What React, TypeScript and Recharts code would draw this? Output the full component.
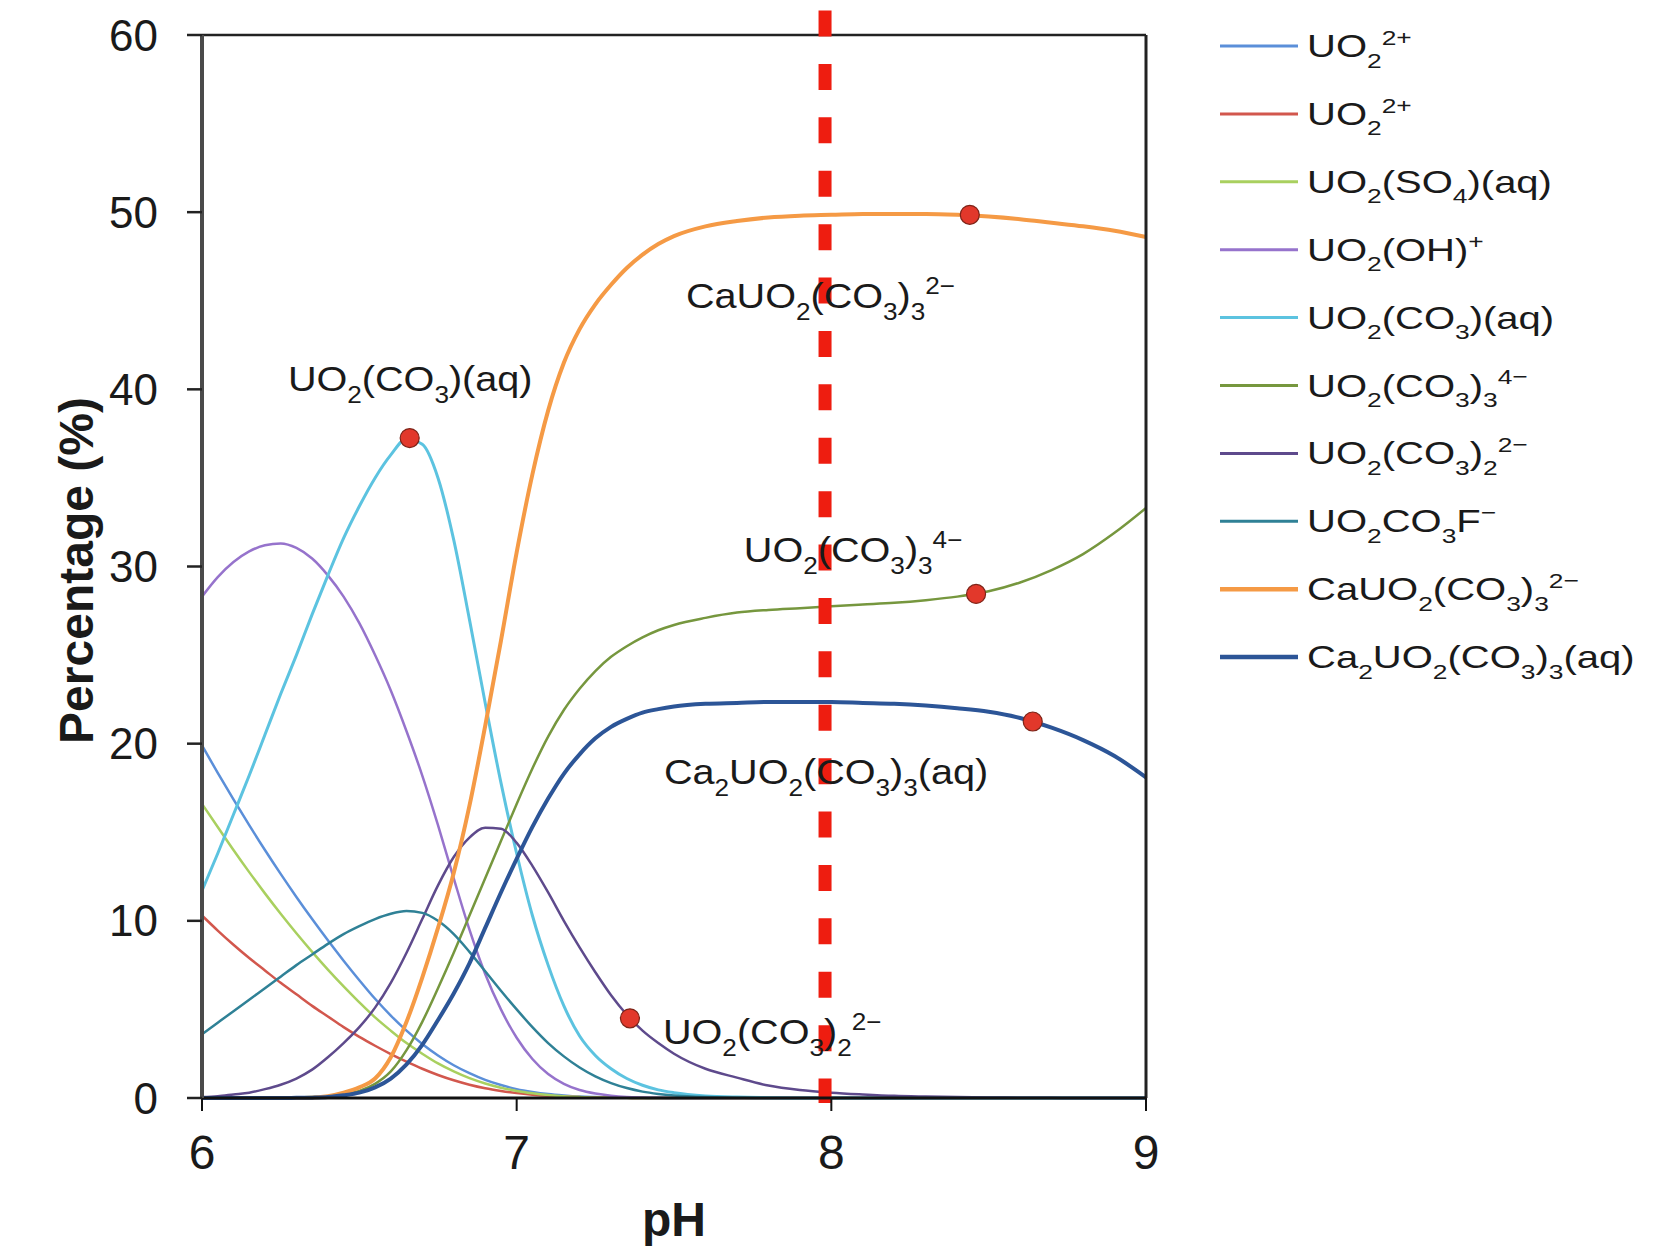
import React from "react";
import { LineChart, Line, XAxis, YAxis, ReferenceLine, ReferenceDot } from "recharts";

// pH grid (finer where the curves change fast)
const pH = [
  6.0, 6.05, 6.1, 6.15, 6.2, 6.25, 6.3, 6.35, 6.4, 6.45, 6.5, 6.55, 6.6, 6.65, 6.7, 6.75,
  6.8, 6.85, 6.9, 6.95, 7.0, 7.05, 7.1, 7.15, 7.2, 7.25, 7.3, 7.35, 7.4, 7.45, 7.5,
  7.6, 7.7, 7.8, 7.9, 8.0, 8.1, 8.2, 8.3, 8.4, 8.5, 8.6, 8.7, 8.8, 8.9, 9.0,
];

const uo2Blue = [
  19.9, 18.35, 16.85, 15.4, 14.0, 12.65, 11.35, 10.1, 8.9, 7.75, 6.65, 5.6, 4.65, 3.8, 3.05, 2.4,
  1.85, 1.4, 1.02, 0.73, 0.5, 0.34, 0.22, 0.14, 0.08, 0.05, 0.03, 0.02, 0.01, 0, 0,
  0, 0, 0, 0, 0, 0, 0, 0, 0, 0, 0, 0, 0, 0, 0,
];
const uo2Red = [
  10.3, 9.45, 8.65, 7.9, 7.2, 6.5, 5.85, 5.2, 4.6, 4.0, 3.45, 2.95, 2.48, 2.05, 1.65, 1.3,
  1.0, 0.75, 0.55, 0.4, 0.28, 0.19, 0.12, 0.08, 0.05, 0.03, 0.02, 0.01, 0, 0, 0,
  0, 0, 0, 0, 0, 0, 0, 0, 0, 0, 0, 0, 0, 0, 0,
];
const so4Green = [
  16.6, 15.3, 14.0, 12.75, 11.55, 10.4, 9.3, 8.25, 7.25, 6.3, 5.4, 4.55, 3.8, 3.1, 2.5, 1.95,
  1.5, 1.12, 0.82, 0.58, 0.4, 0.27, 0.17, 0.1, 0.06, 0.03, 0.02, 0.01, 0, 0, 0,
  0, 0, 0, 0, 0, 0, 0, 0, 0, 0, 0, 0, 0, 0, 0,
];
const ohPurple = [
  28.3, 29.4, 30.25, 30.85, 31.2, 31.3, 31.05, 30.45, 29.5, 28.3, 26.8, 25.0, 23.0, 20.7, 18.2, 15.4,
  12.4, 9.5, 7.0, 5.0, 3.4, 2.2, 1.35, 0.8, 0.45, 0.25, 0.13, 0.06, 0.03, 0.01, 0,
  0, 0, 0, 0, 0, 0, 0, 0, 0, 0, 0, 0, 0, 0, 0,
];
const co3Cyan = [
  11.7, 13.8, 16.0, 18.2, 20.5, 22.8, 25.0, 27.3, 29.5, 31.6, 33.4, 35.0, 36.3, 37.2, 36.9, 35.0,
  31.5, 27.0, 22.3, 17.8, 13.8, 10.3, 7.5, 5.2, 3.5, 2.4, 1.65, 1.1, 0.72, 0.46, 0.3,
  0.12, 0.05, 0.02, 0, 0, 0, 0, 0, 0, 0, 0, 0, 0, 0, 0,
];
const tri4Olive = [
  0, 0, 0, 0, 0, 0.01, 0.02, 0.05, 0.1, 0.2, 0.4, 0.8, 1.5, 2.7, 4.3, 6.2,
  8.2, 10.3, 12.4, 14.5, 16.6, 18.6, 20.4, 21.9, 23.1, 24.1, 24.9, 25.5, 26.0, 26.4, 26.7,
  27.1, 27.4, 27.55, 27.65, 27.75, 27.85, 27.95, 28.1, 28.3, 28.6, 29.1, 29.8, 30.7, 31.9, 33.3,
];
const di2Purple = [
  0.05, 0.1, 0.2, 0.3, 0.5, 0.75, 1.1, 1.6, 2.3, 3.1, 4.0, 5.1, 6.5, 8.2, 10.1, 12.0,
  13.6, 14.7, 15.25, 15.2, 14.4, 13.1, 11.6, 10.0, 8.5, 7.1, 5.8, 4.7, 3.8, 3.1, 2.5,
  1.65, 1.15, 0.7, 0.45, 0.3, 0.2, 0.12, 0.08, 0.05, 0.03, 0.02, 0.01, 0, 0, 0,
];
const co3fTeal = [
  3.6, 4.25, 4.9, 5.55, 6.2, 6.85, 7.5, 8.1, 8.7, 9.25, 9.7, 10.1, 10.4, 10.55, 10.45, 10.0,
  9.25, 8.25, 7.15, 6.05, 5.0, 4.0, 3.1, 2.35, 1.72, 1.22, 0.84, 0.56, 0.36, 0.23, 0.14,
  0.05, 0.02, 0, 0, 0, 0, 0, 0, 0, 0, 0, 0, 0, 0, 0,
];
const caOrange = [
  0, 0, 0, 0, 0, 0, 0, 0.02, 0.1, 0.3, 0.6, 1.1, 2.3, 4.3, 6.8, 9.6,
  12.7, 16.5, 21.0, 25.8, 30.8, 35.2, 38.8, 41.5, 43.4, 44.8, 45.9, 46.85, 47.6, 48.2, 48.65,
  49.2, 49.5, 49.7, 49.8, 49.85, 49.9, 49.9, 49.9, 49.85, 49.75, 49.6, 49.4, 49.2, 48.95, 48.6,
];
const ca2DarkBlue = [
  0, 0, 0, 0, 0, 0, 0.01, 0.02, 0.05, 0.15, 0.3, 0.6, 1.1, 1.9, 3.0, 4.4,
  5.9, 7.6, 9.6, 11.6, 13.5, 15.3, 16.9, 18.3, 19.4, 20.3, 20.95, 21.4, 21.75, 21.95, 22.1,
  22.25, 22.3, 22.35, 22.35, 22.35, 22.3, 22.25, 22.15, 22.0, 21.8, 21.45, 20.9, 20.2, 19.3, 18.1,
];

// {..} = subscript, [..] = superscript
const series = [
  { key: "uo2a", name: "UO{2}[2+]", color: "#5b8fd9", width: 2.5, values: uo2Blue },
  { key: "uo2b", name: "UO{2}[2+]", color: "#d2574d", width: 2.5, values: uo2Red },
  { key: "so4", name: "UO{2}(SO{4})(aq)", color: "#a9d05f", width: 2.5, values: so4Green },
  { key: "oh", name: "UO{2}(OH)[+]", color: "#9673cc", width: 2.5, values: ohPurple },
  { key: "co3", name: "UO{2}(CO{3})(aq)", color: "#5cc3e0", width: 3, values: co3Cyan },
  { key: "tri", name: "UO{2}(CO{3}){3}[4−]", color: "#76973e", width: 2.5, values: tri4Olive },
  { key: "di", name: "UO{2}(CO{3}){2}[2−]", color: "#5e4a8c", width: 2.5, values: di2Purple },
  { key: "f", name: "UO{2}CO{3}F[−]", color: "#2f8196", width: 2.5, values: co3fTeal },
  { key: "ca", name: "CaUO{2}(CO{3}){3}[2−]", color: "#f59a45", width: 4, values: caOrange },
  { key: "ca2", name: "Ca{2}UO{2}(CO{3}){3}(aq)", color: "#2c5597", width: 4, values: ca2DarkBlue },
];

const dotPH = [6.66, 7.36, 8.44, 8.46, 8.64];
const dotVal = [37.25, 4.5, 49.85, 28.45, 21.25];

const labelText = [
  "UO{2}(CO{3})(aq)",
  "CaUO{2}(CO{3}){3}[2−]",
  "UO{2}(CO{3}){3}[4−]",
  "Ca{2}UO{2}(CO{3}){3}(aq)",
  "UO{2}(CO{3}){2}[2−]",
];
const labelPH = [6.273, 7.538, 7.722, 7.468, 7.465];
const labelVal = [39.9, 44.6, 30.25, 17.72, 3.05];

const markerPH = 7.98;
const yTicks = [0, 10, 20, 30, 40, 50, 60];
const xTicks = [6, 7, 8, 9];

const FONT = '"Liberation Sans", Arial, Helvetica, sans-serif';

const data = pH.map((x, i) => {
  const row: any = { pH: x };
  series.forEach((s) => (row[s.key] = s.values[i]));
  return row;
});

function Formula({ text, size }: { text: string; size: number }) {
  const parts = text.match(/\{[^}]*\}|\[[^\]]*\]|[^{[]+/g) || [];
  let cur = 0;
  return (
    <text x={0} y={0} fontSize={size} fill="#1a1a1a" fontFamily={FONT}>
      {parts.map((p, i) => {
        let kind = 0;
        let t = p;
        if (p[0] === "{") {
          kind = 1;
          t = p.slice(1, -1);
        } else if (p[0] === "[") {
          kind = 2;
          t = p.slice(1, -1);
        }
        const off = kind === 1 ? size * 0.33 : kind === 2 ? -size * 0.38 : 0;
        const dy = off - cur;
        cur = off;
        return (
          <tspan key={i} dy={dy} fontSize={kind ? size * 0.66 : size}>
            {t}
          </tspan>
        );
      })}
    </text>
  );
}

function LegendBox() {
  return (
    <svg
      width={1659}
      height={1246}
      style={{ position: "absolute", left: 0, top: 0, pointerEvents: "none" }}
    >
      {series.map((s, i) => {
        const y = 46 + i * 67.9;
        return (
          <g key={s.key}>
            <line x1={1220} x2={1298} y1={y} y2={y} stroke={s.color} strokeWidth={s.width === 4 ? 4.5 : 3} />
            <g transform={`translate(1307, ${y + 11}) scale(1.25, 1)`}>
              <Formula text={s.name} size={32} />
            </g>
          </g>
        );
      })}
    </svg>
  );
}

export default function App() {
  return (
    <div style={{ position: "absolute", left: 0, top: 0, width: 1659, height: 1246, background: "#fff" }}>
      <LineChart
        width={1659}
        height={1246}
        data={data}
        margin={{ top: 35, right: 513, bottom: 88, left: 122 }}
      >
        <XAxis
          dataKey="pH"
          type="number"
          domain={[6, 9]}
          ticks={xTicks}
          height={60}
          axisLine={{ stroke: "#111", strokeWidth: 3 }}
          tickLine={{ stroke: "#111", strokeWidth: 2 }}
          tickSize={13}
          tickMargin={24}
          tick={{ fontSize: 48, fill: "#1a1a1a", fontFamily: FONT }}
          label={{
            content: (p: any) => {
              const vb = p.viewBox || { x: 202, y: 1098, width: 944, height: 60 };
              return (
                <text
                  x={vb.x + vb.width / 2}
                  y={vb.y + 138}
                  textAnchor="middle"
                  fontSize={48}
                  fontWeight="bold"
                  fill="#1a1a1a"
                  fontFamily={FONT}
                >
                  pH
                </text>
              );
            },
          }}
        />
        <YAxis
          type="number"
          domain={[0, 60]}
          ticks={yTicks}
          width={80}
          axisLine={{ stroke: "#4a4a4a", strokeWidth: 4 }}
          tickLine={{ stroke: "#222", strokeWidth: 2.5 }}
          tickSize={15}
          tickMargin={29}
          tick={{ fontSize: 44, fill: "#1a1a1a", fontFamily: FONT }}
          label={{
            content: (p: any) => {
              const vb = p.viewBox || { x: 122, y: 35, width: 80, height: 1063 };
              const cx = vb.x - 29;
              const cy = vb.y + vb.height / 2 + 4;
              return (
                <text
                  x={cx}
                  y={cy}
                  transform={`rotate(-90, ${cx}, ${cy})`}
                  textAnchor="middle"
                  fontSize={48}
                  fontWeight="bold"
                  fill="#1a1a1a"
                  fontFamily={FONT}
                >
                  Percentage (%)
                </text>
              );
            },
          }}
        />
        {series.map((s) => (
          <Line
            key={s.key}
            dataKey={s.key}
            type="monotone"
            stroke={s.color}
            strokeWidth={s.width}
            dot={false}
            activeDot={false}
            isAnimationActive={false}
          />
        ))}
        <ReferenceLine y={60} stroke="#222" strokeWidth={2.5} />
        <ReferenceLine x={9} stroke="#222" strokeWidth={3} />
        {dotPH.map((x, i) => (
          <ReferenceDot
            key={`dot-${i}`}
            x={x}
            y={dotVal[i]}
            r={9.5}
            fill="#e2382b"
            stroke="#7d2418"
            strokeWidth={1.2}
          />
        ))}
        {labelText.map((t, i) => (
          <ReferenceDot
            key={`lab-${i}`}
            x={labelPH[i]}
            y={labelVal[i]}
            r={1}
            shape={(p: any) => (
              <g transform={`translate(${p.cx}, ${p.cy}) scale(1.1, 1)`}>
                <Formula text={t} size={36} />
              </g>
            )}
          />
        ))}
        <ReferenceLine
          segment={[
            { x: markerPH, y: 61.38 },
            { x: markerPH, y: -0.28 },
          ]}
          stroke="#ee1d10"
          strokeWidth={13}
          strokeDasharray="26 27.4"
          ifOverflow="visible"
        />
      </LineChart>
      <LegendBox />
    </div>
  );
}
